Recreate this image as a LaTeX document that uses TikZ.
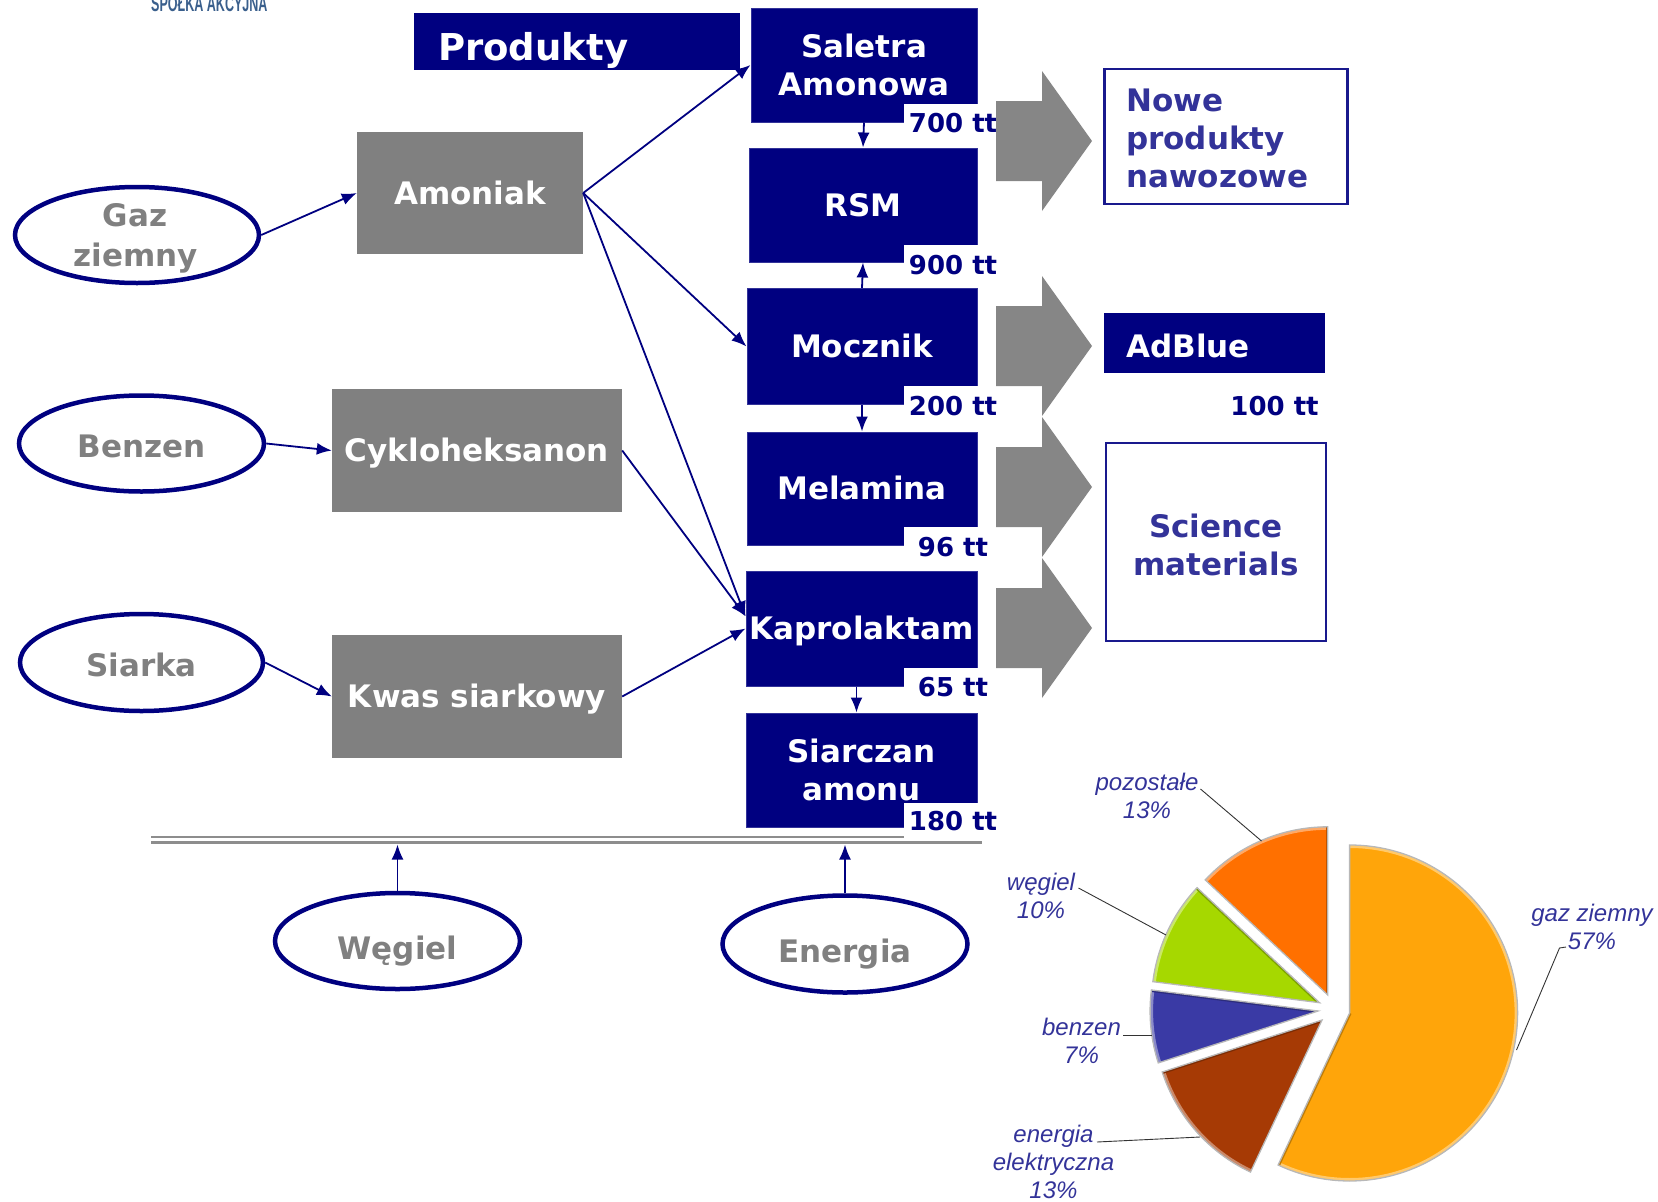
\documentclass[tikz,border=0pt]{standalone}
\usepackage{fontspec}
\setmainfont{DejaVu Sans}
\newfontfamily\piefont{Liberation Sans}
\newfontfamily\logofont{Liberation Sans}
\usetikzlibrary{shapes.geometric,arrows.meta,calc}
\definecolor{navyc}{RGB}{0,0,128}
\definecolor{grayc}{RGB}{128,128,128}
\definecolor{arrgray}{RGB}{134,134,134}
\definecolor{txtblue}{RGB}{51,51,153}
\definecolor{logoc}{RGB}{58,95,140}
\definecolor{gazc}{RGB}{255,165,10}
\definecolor{pozc}{RGB}{255,112,0}
\definecolor{wegc}{RGB}{166,216,0}
\definecolor{benc}{RGB}{58,58,165}
\definecolor{enc}{RGB}{166,58,5}
\newcommand\bxfont{\fontsize{31}{38}\selectfont\bfseries}
\newcommand\lblfont{\fontsize{26}{30}\selectfont\bfseries}
\newcommand\pielblfont{\piefont\itshape\fontsize{24}{28}\selectfont}
\begin{document}
\begin{tikzpicture}[x=1pt,y=-1pt,
  navybox/.style={fill=navyc, draw=navyc!80!white, line width=1, inner sep=0, text=white, font=\bxfont, align=center},
  graybox/.style={fill=grayc, inner sep=0, text=white, font=\bxfont, align=center},
  capc/.style={text height=22.6pt, text depth=0pt},
  whitebox/.style={fill=white, draw=navyc!90!white, line width=2.5, inner sep=0, text=txtblue, font=\bxfont},
  src/.style={ellipse, draw=navyc, line width=4.5, inner sep=0},
  srctext/.style={anchor=base, inner sep=0, text=grayc, font=\bxfont},
  lbl/.style={fill=white, inner sep=0, minimum width=98, text=navyc, font=\lblfont},
  conn/.style={draw=navyc, line width=1.8, -{Latex[length=15,width=12]}},
  blockarrow/.style={fill=arrgray},
  dline/.style={draw=grayc!90!white, line width=2.5},
  leader/.style={draw=black!80, line width=0.9},
  pielbl/.style={inner sep=0, text=txtblue, font=\pielblfont, align=center}
]
\useasboundingbox (0,0) rectangle (1658,1202);
\clip (0,0) rectangle (1658,1202);

% logo fragment
\node[anchor=base west, inner sep=0, text=logoc] (logo) at (151,11) {\logofont\bfseries\fontsize{22}{22}\selectfont\scalebox{0.57}[1]{SPÓŁKA AKCYJNA}};

% header
\node[fill=navyc, inner sep=0, minimum width=326, minimum height=57] (produkty) at (577,41.5) {};
\node[anchor=west, inner sep=0, text=white, font=\fontsize{37}{40}\selectfont\bfseries] (produktyt) at (438,50) {Produkty};

% product column
\node[navybox, minimum width=226, minimum height=114] (saletra) at (864,65) {Saletra\\Amonowa};
\node[navybox, capc, minimum width=228, minimum height=114] (rsm) at (863,205) {RSM};
\node[navybox, capc, minimum width=230, minimum height=116] (mocznik) at (862,346.5) {Mocznik};
\node[navybox, capc, minimum width=230, minimum height=113] (melamina) at (862,488.5) {Melamina};
\node[navybox, capc, minimum width=231, minimum height=115] (kap) at (861.5,628.5) {Kaprolaktam};
\node[navybox, minimum width=231, minimum height=114] (siarczan) at (861.5,770) {Siarczan\\amonu};

% intermediates
\node[graybox, capc, minimum width=226, minimum height=122] (amoniak) at (470,193) {Amoniak};
\node[graybox, capc, minimum width=290, minimum height=123] (cyklo) at (477,450.5) {Cykloheksanon};
\node[graybox, capc, minimum width=290, minimum height=123] (kwas) at (477,696.5) {Kwas siarkowy};

% sources
\node[src, minimum width=244, minimum height=96] (gaz) at (137,235) {};
\node[srctext] (gazt1) at (135,226) {Gaz};
\node[srctext] (gazt2) at (136,266) {ziemny};
\node[src, minimum width=245, minimum height=96] (benzen) at (141.5,443.5) {};
\node[srctext] (benzent) at (141.5,457.5) {Benzen};
\node[src, minimum width=243, minimum height=97] (siarka) at (141.5,662.5) {};
\node[srctext] (siarkat) at (141.5,676) {Siarka};
\node[src, minimum width=245, minimum height=96] (wegiel) at (397.5,941) {};
\node[srctext] (wegielt) at (397.5,959) {Węgiel};
\node[src, minimum width=245, minimum height=97] (energia) at (845,944) {};
\node[srctext] (energiat) at (845,962.5) {Energia};

% double line
\coordinate (dlA) at (151,837);
\coordinate (dlB) at (982,837);
\coordinate (dlC) at (151,842.5);
\coordinate (dlD) at (982,842.5);
\draw[dline] (dlA) -- (dlB);
\draw[dline] (dlC) -- (dlD);
\coordinate (wegtip) at (397.5,844.5);
\coordinate (entip) at (845,844.5);

% connectors
\draw[conn] (gaz.east) -- (amoniak.west);
\draw[conn] (benzen.east) -- (cyklo.west);
\draw[conn] (siarka.east) -- (kwas.west);
\draw[conn] (amoniak.east) -- (saletra.west);
\draw[conn] (amoniak.east) -- (mocznik.west);
\draw[conn] (amoniak.east) -- (kap.174);
\draw[conn] (cyklo.east) -- (kap.174);
\draw[conn] (kwas.east) -- (kap.west);
\draw[conn] (saletra.south) -- (rsm.north);
\draw[conn] (mocznik.north) -- (rsm.south);
\draw[conn] (mocznik.south) -- (melamina.north);
\draw[conn] ([xshift=-5]kap.south) -- ([xshift=-5]siarczan.north);
\draw[conn] (wegiel.north) -- (wegtip);
\draw[conn] (energia.north) -- (entip);

% capacity labels
\node[lbl, minimum height=38] (l700) at (953,123) {700 tt};
\node[lbl, minimum height=40] (l900) at (953,265) {900 tt};
\node[lbl, minimum height=40] (l200) at (953,406) {200 tt};
\node[lbl, minimum height=40] (l96) at (953,547) {96 tt};
\node[lbl, minimum height=39] (l65) at (953,687.5) {65 tt};
\node[lbl, minimum height=37] (l180) at (953,821) {180 tt};

% block arrows
\foreach \c in {141,346,487,628}{
  \fill[blockarrow] (996,\c-40) -- (1042,\c-40) -- (1042,\c-70) -- (1092,\c) -- (1042,\c+70) -- (1042,\c+40) -- (996,\c+40) -- cycle;
}

% right boxes
\node[whitebox, minimum width=243, minimum height=135] (nowe) at (1226,136.5) {};
\node[anchor=west, inner sep=0, text=txtblue, font=\bxfont, align=left] (nowet) at (1126,138) {Nowe\\produkty\\nawozowe};
\node[fill=navyc, inner sep=0, minimum width=221, minimum height=60] (adblue) at (1214.5,343) {};
\node[anchor=west, inner sep=0, capc, text=white, font=\bxfont] (adbluet) at (1126,346) {AdBlue};
\node[text=navyc, font=\lblfont, inner sep=0] (l100) at (1274.5,406) {100 tt};
\node[whitebox, minimum width=220, minimum height=198] (science) at (1216,542) {};
\node[inner sep=0, text=txtblue, font=\bxfont, align=center] (sciencet) at (1216,544.5) {Science\\materials};

% pie chart
\begin{scope}[shift={(1334,1009.5)}, yscale=-1]
  \foreach \col/\mid/\st/\en in {gazc/-12.6/90/-115.2, enc/-138.6/-115.2/-162, benc/-174.6/-162/-187.2, wegc/-205.2/-187.2/-223.2, pozc/-246.6/-223.2/-270}{
    \begin{scope}
      \clip (\mid:16) -- ++(\st:168) arc[start angle=\st, end angle=\en, radius=168] -- cycle;
      \fill[\col] (\mid:16) -- ++(\st:168) arc[start angle=\st, end angle=\en, radius=168] -- cycle;
      \draw[\col!60!white, line width=6] ($(\mid:16)+(\st:168)$) arc[start angle=\st, end angle=\en, radius=168];
      \draw[\col!75!black, line width=4] (\mid:16) -- ++(\en:168);
    \end{scope}
    \draw[black!28, line width=1.3] (\mid:16) -- ++(\st:168) arc[start angle=\st, end angle=\en, radius=168] -- cycle;
  }
\end{scope}

% pie labels
\node[pielbl] (pozl) at (1147,796) {pozostałe\\13\%};
\node[pielbl] (wegl) at (1041,896) {węgiel\\10\%};
\node[pielbl] (benl) at (1081.5,1041) {benzen\\7\%};
\node[pielbl] (enl) at (1053.5,1162) {energia\\elektryczna\\13\%};
\node[pielbl] (gazl) at (1592,927) {gaz ziemny\\57\%};

\coordinate (pozA) at (1200.5,789);
\coordinate (pozB) at (1261.5,841);
\coordinate (wegA) at (1078.5,888);
\coordinate (wegB) at (1166,935);
\coordinate (benA) at (1123,1035);
\coordinate (benB) at (1152,1035);
\coordinate (enA) at (1097,1142);
\coordinate (enB) at (1200,1137);
\coordinate (gazA) at (1566,947);
\coordinate (gazM) at (1559.5,948);
\coordinate (gazB) at (1516.5,1050);
\draw[leader] (pozA) -- (pozB);
\draw[leader] (wegA) -- (wegB);
\draw[leader] (benA) -- (benB);
\draw[leader] (enA) -- (enB);
\draw[leader] (gazA) -- (gazM) -- (gazB);
\end{tikzpicture}
\end{document}
